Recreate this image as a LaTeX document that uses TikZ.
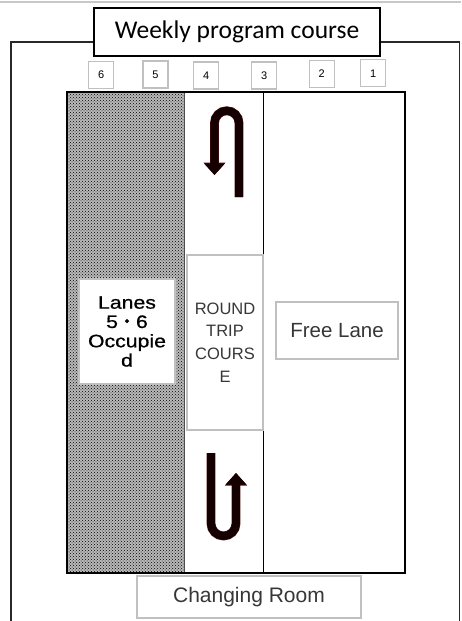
\documentclass[tikz,border=0pt]{standalone}
\usepackage{fontspec}
\setmainfont{Liberation Sans}
\newfontfamily\titlefont{Carlito}
\newfontfamily\gothic[FakeStretch=1.18,FakeBold=0.8]{Liberation Sans}
\newfontfamily\cjk[FakeBold=0.8]{Noto Sans CJK JP}
\usetikzlibrary{arrows.meta,patterns}
\definecolor{boxgray}{RGB}{192,192,192}
\definecolor{arrowdark}{RGB}{20,0,0}
\definecolor{arrowedge}{RGB}{75,10,10}
\definecolor{toplinegray}{RGB}{200,200,200}
\definecolor{textgray}{RGB}{55,55,55}
\definecolor{framecol}{RGB}{40,40,40}
\begin{document}
\begin{tikzpicture}[x=1pt,y=-1pt,
  lightbox/.style={draw=boxgray,fill=white,line width=1.1pt,inner sep=0pt,align=center},
  numbox/.style={lightbox,minimum width=25pt,minimum height=27pt,font=\fontsize{11}{13}\selectfont},
  titlebox/.style={draw=black,fill=white,line width=2pt,inner sep=0pt,minimum width=286pt,minimum height=48pt,font=\titlefont\fontsize{25.5}{30}\selectfont},
  uturnedge/.style={line width=8.8pt,draw=arrowedge,-{Triangle[width=21.5pt,length=12.5pt]}},
  uturn/.style={line width=7.6pt,draw=arrowdark,-{Triangle[width=20pt,length=11.5pt]}}
]
\useasboundingbox (0,0) rectangle (461,621);
% top gray rule
\draw[toplinegray,line width=1.3pt] (0,2) -- (461,2);
% outer frame
\draw[framecol,line width=1.5pt] (11,621) -- (11,42) -- (459.5,42) -- (459.5,621);
% occupied lanes shading
\fill[gray!55] (67,92) rectangle (184,573);
\fill[pattern=crosshatch dots,pattern color=black] (67,92) rectangle (184,573);
\draw[black!70,line width=1pt] (184,92) -- (184,573);
% pool
\draw[black,line width=1.8pt] (67,92) rectangle (405,573);
% lane divider
\coordinate (dtop) at (263.5,92);
\coordinate (dbot) at (263.5,572);
\draw[black,line width=1.3pt] (dtop) -- (dbot);
% title
\node[titlebox] (title) at (237,32) {Weekly program course};
% lane numbers
\node[numbox] (n6) at (101.2,75) {6};
\node[numbox] (n5) at (155.5,74.5) {5};
\node[numbox] (n4) at (206.3,75.5) {4};
\node[numbox] (n3) at (264.2,75.5) {3};
\node[numbox] (n2) at (321.8,73.9) {2};
\node[numbox] (n1) at (373.3,73.3) {1};
% labels
\node[lightbox,minimum width=96pt,minimum height=105pt,font=\gothic\fontsize{18}{19.3}\selectfont] (occ) at (127,331.5) {Lanes\\5{\cjk ・}6\\Occupie\\d};
\node[lightbox,minimum width=76pt,minimum height=175pt,text=textgray,font=\fontsize{16.5}{22.6}\selectfont] (round) at (225,342.5) {ROUND\\TRIP\\COURS\\E};
\node[lightbox,minimum width=122pt,minimum height=57pt,text=textgray,font=\fontsize{20.5}{24}\selectfont] (free) at (337,330.5) {Free Lane};
\node[lightbox,minimum width=224pt,minimum height=42pt,text=textgray,font=\fontsize{21}{25}\selectfont] (changing) at (249,597) {Changing Room};
% U-turn arrows
\coordinate (ua) at (239,197);
\coordinate (ub) at (239,123);
\coordinate (uc) at (214.5,175);
\draw[uturnedge] (ua) -- (ub) arc[start angle=0,end angle=-180,radius=12.25] -- (uc);
\draw[uturn] (ua) -- (ub) arc[start angle=0,end angle=-180,radius=12.25] -- (uc);
\coordinate (la) at (211,453);
\coordinate (lb) at (211,523.5);
\coordinate (lc) at (236,473);
\draw[uturnedge] (la) -- (lb) arc[start angle=180,end angle=0,radius=12.5] -- (lc);
\draw[uturn] (la) -- (lb) arc[start angle=180,end angle=0,radius=12.5] -- (lc);
\end{tikzpicture}
\end{document}
